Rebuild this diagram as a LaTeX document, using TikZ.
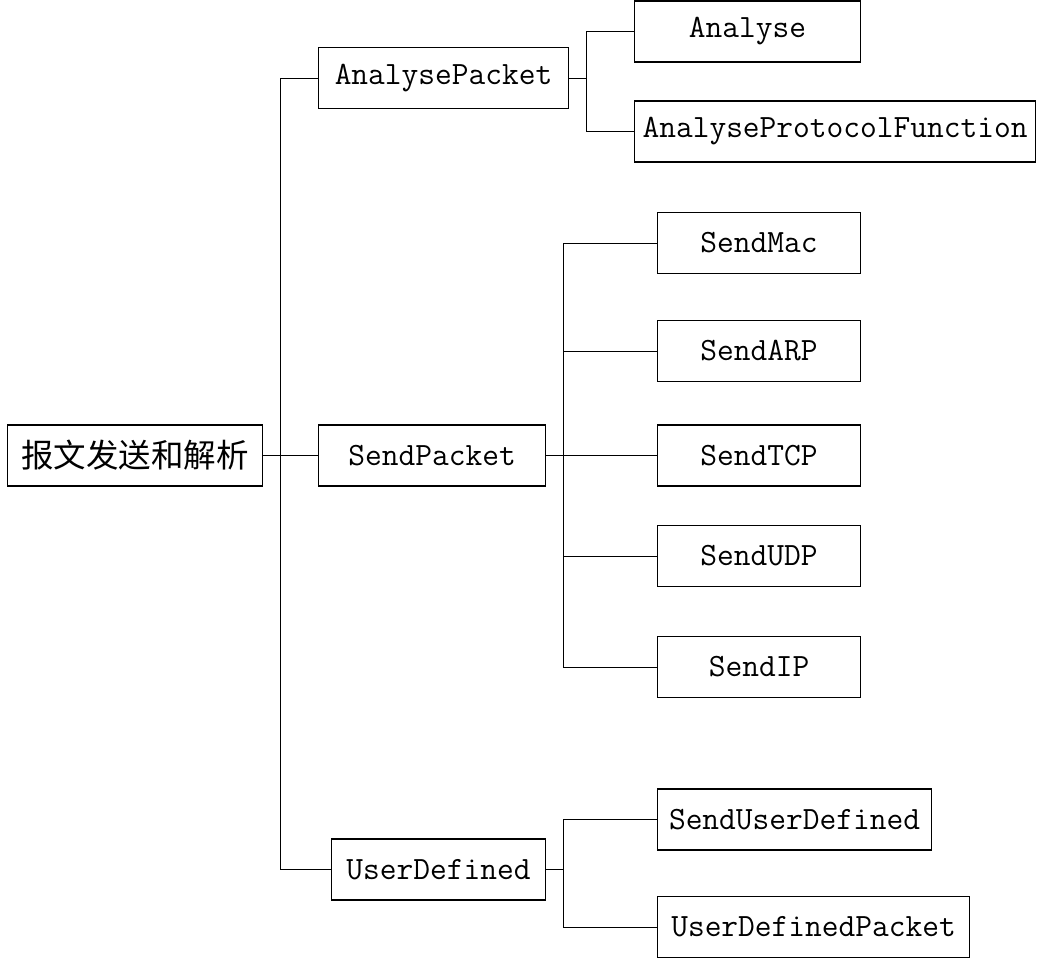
\documentclass[tikz,border=0pt]{standalone}
\usepackage{fontspec}
\setmonofont{Latin Modern Mono}
\newfontfamily\cjk{Noto Sans CJK SC}
\tikzset{
  box/.style={draw, line width=1.1pt, minimum height=61pt, inner sep=0pt,
    anchor=west, font=\fontsize{32.5}{34}\selectfont\ttfamily},
  link/.style={line width=1pt}
}
\begin{document}
\begin{tikzpicture}[x=1pt, y=-1pt]
\useasboundingbox (0,0) rectangle (1045,959);
% root
\node[box, minimum width=255pt, font=\fontsize{32.5}{34}\selectfont\cjk] (root) at (7,455.5) {报文发送和解析};
% second level
\node[box, minimum width=250pt] (ap) at (318,78) {AnalysePacket};
\node[box, minimum width=227pt] (sp) at (318,455.5) {SendPacket};
\node[box, minimum width=214pt] (ud) at (331,869.5) {UserDefined};
% third level
\node[box, minimum width=226pt] (an) at (634,31.5) {Analyse};
\node[box, minimum width=401pt] (apf) at (634,131.5) {AnalyseProtocolFunction};
\node[box, minimum width=203pt] (mac) at (657,243) {SendMac};
\node[box, minimum width=203pt] (arp) at (657,351) {SendARP};
\node[box, minimum width=203pt] (tcp) at (657,455.5) {SendTCP};
\node[box, minimum width=203pt] (udp) at (657,556) {SendUDP};
\node[box, minimum width=203pt] (ip) at (657,667) {SendIP};
\node[box, minimum width=274pt] (sud) at (657,819.5) {SendUserDefined};
\node[box, minimum width=312pt] (udp2) at (657,927) {UserDefinedPacket};
% joints
\coordinate (j0) at (280,455.5);
\coordinate (j1) at (586,78);
\coordinate (j2) at (563,455.5);
\coordinate (j3) at (563,869.5);
% connectors
\draw[link] (root.east) -- (j0);
\draw[link] (j0) |- (ap.west);
\draw[link] (j0) -- (sp.west);
\draw[link] (j0) |- (ud.west);
\draw[link] (ap.east) -- (j1);
\draw[link] (j1) |- (an.west);
\draw[link] (j1) |- (apf.west);
\draw[link] (sp.east) -- (j2);
\foreach \n in {mac,arp,tcp,udp,ip}
  \draw[link] (j2) |- (\n.west);
\draw[link] (ud.east) -- (j3);
\draw[link] (j3) |- (sud.west);
\draw[link] (j3) |- (udp2.west);
\end{tikzpicture}
\end{document}
